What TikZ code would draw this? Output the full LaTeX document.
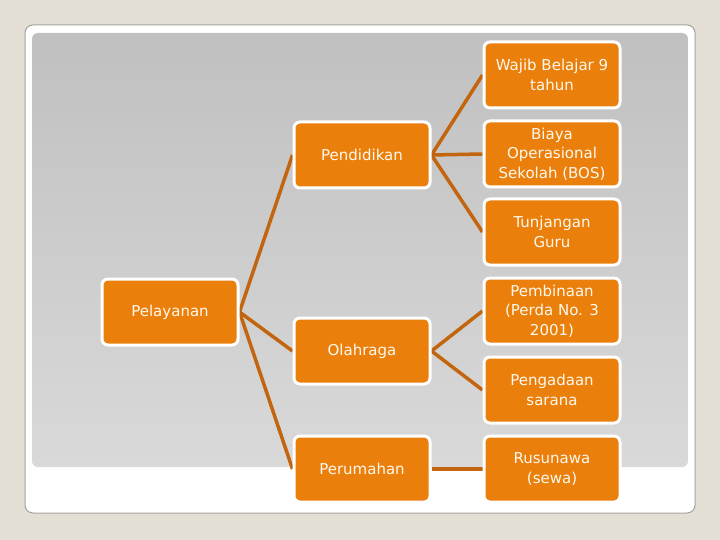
\documentclass[tikz,border=0pt]{standalone}
\usepackage{fontspec}
\setmainfont{DejaVu Sans}
\usepackage{xcolor}
\usetikzlibrary{positioning}

\definecolor{pagebg}{HTML}{E4DFD5}
\definecolor{cardline}{HTML}{A6A39C}
\definecolor{panetop}{HTML}{C0C0C0}
\definecolor{panebot}{HTML}{D9D9D9}
\definecolor{boxorange}{HTML}{EB7F0C}
\definecolor{linkorange}{HTML}{C2650E}
\definecolor{boxtext}{HTML}{FFF9EE}

\pgfdeclarelayer{back}
\pgfdeclarelayer{links}
\pgfsetlayers{back,links,main}

\tikzset{
  box/.style={rectangle, rounded corners=6pt, draw=white, line width=3pt,
    fill=boxorange, text=boxtext, minimum width=136pt, minimum height=66pt,
    align=center, inner sep=2pt,
    font=\fontsize{15pt}{19.5pt}\selectfont},
  link/.style={draw=linkorange, line width=3.5pt}
}

\begin{document}
\begin{tikzpicture}[x=1pt, y=-1pt]
        % Background and panel
        \begin{pgfonlayer}{back}
        \fill[pagebg] (0,0) rectangle (720,540);
        \draw[cardline, fill=white, rounded corners=8pt, line width=1pt] (25,25) rectangle (695,513);
        \shade[top color=panetop, bottom color=panebot, rounded corners=6pt] (32,33) rectangle (688,467);
        \end{pgfonlayer}
        \useasboundingbox (0,0) rectangle (720,540);

        % Level 1
        \node[box] (pel) at (170,312) {Pelayanan};

        % Level 2
        \node[box] (pend) at (362,155) {Pendidikan};
        \node[box] (olah) at (362,351) {Olahraga};
        \node[box] (rumah) at (362,469) {Perumahan};

        % Level 3
        \node[box] (wajib) at (552,75) {Wajib Belajar 9\\tahun};
        \node[box] (bos) at (552,154) {Biaya\\Operasional\\Sekolah (BOS)};
        \node[box] (guru) at (552,232) {Tunjangan\\Guru};
        \node[box] (bina) at (552,311) {Pembinaan\\(Perda No. 3\\2001)};
        \node[box] (sarana) at (552,390) {Pengadaan\\sarana};
        \node[box] (rusun) at (552,469) {Rusunawa\\(sewa)};

        % Connectors
        \begin{pgfonlayer}{links}
        \foreach \child in {pend, olah, rumah}
          \draw[link] (pel.east) -- (\child.west);
        \foreach \child in {wajib, bos, guru}
          \draw[link] (pend.east) -- (\child.west);
        \foreach \child in {bina, sarana}
          \draw[link] (olah.east) -- (\child.west);
        \draw[link] (rumah.east) -- (rusun.west);
        \end{pgfonlayer}
\end{tikzpicture}
\end{document}
